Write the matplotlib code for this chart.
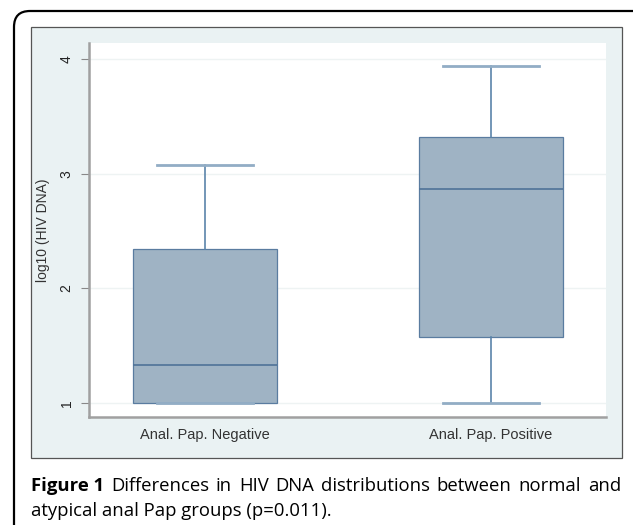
import matplotlib
matplotlib.use('Agg')
import matplotlib.pyplot as plt
from matplotlib.patches import Rectangle, FancyBboxPatch
from matplotlib.transforms import IdentityTransform

# box summaries (log10 HIV DNA)
groups = ['Anal. Pap. Negative', 'Anal. Pap. Positive']
whislo = [1.00, 1.00]
q1 = [1.00, 1.58]
med = [1.33, 2.87]
q3 = [2.34, 3.32]
whishi = [3.08, 3.94]
yticks = [1, 2, 3, 4]

caption_bold = 'Figure 1'
caption_line1 = 'Differences in HIV DNA distributions between normal and'
caption_line2 = 'atypical anal Pap groups (p=0.011).'

W, H = 633, 525
fig = plt.figure(figsize=(W / 100, H / 100), dpi=100)


def fx(px):
    return px / W


def fy(py):
    return 1 - py / H


# outer rounded frame of the figure panel (pixel coordinates, origin bottom-left)
outer = FancyBboxPatch((14, -40), 660 - 14, (H - 11) + 40,
                       boxstyle='round,pad=0,rounding_size=16',
                       transform=IdentityTransform(), fill=False,
                       edgecolor='black', linewidth=1.6, zorder=-3)
fig.patches.append(outer)

# stata-style graph region
frame = Rectangle((fx(31), fy(458)), fx(622 - 31), (458 - 27) / H,
                  transform=fig.transFigure, facecolor='#eaf2f3',
                  edgecolor='#555555', linewidth=0.9, zorder=-2)
fig.patches.append(frame)

ax = fig.add_axes([fx(89), fy(417), fx(606 - 89), (417 - 43) / H])
ax.set_facecolor('white')

stats = []
for i, g in enumerate(groups):
    stats.append(dict(label=g, whislo=whislo[i], q1=q1[i], med=med[i],
                      q3=q3[i], whishi=whishi[i], fliers=[]))

ax.bxp(stats, positions=[1, 2], widths=0.503, capwidths=0.336,
       patch_artist=True, showfliers=False,
       boxprops=dict(facecolor='#9fb3c4', edgecolor='#5a7ca0', linewidth=0.9),
       medianprops=dict(color='#4f7398', linewidth=1.2),
       whiskerprops=dict(color='#5b84aa', linewidth=1.2),
       capprops=dict(color='#92adc5', linewidth=2.0))

ax.set_xlim(0.594, 2.402)
ax.set_ylim(0.878, 4.14)
ax.set_yticks(yticks)
ax.set_yticklabels([str(t) for t in yticks], rotation=90, va='center',
                   fontsize=10, color='#222222', family='Liberation Sans')
ax.set_xticks([1, 2])
ax.set_xticklabels(groups, fontsize=10.5, color='#333333',
                   family='Liberation Sans')
ax.tick_params(axis='x', length=0, pad=8)
ax.tick_params(axis='y', length=6, width=0.8, color='#888888', pad=5)
ax.grid(axis='y', color='#eef3f3', linewidth=1.0)
ax.set_axisbelow(True)
for s in ['top', 'right']:
    ax.spines[s].set_visible(False)
for s in ['left', 'bottom']:
    ax.spines[s].set_color('#a0a0a0')
    ax.spines[s].set_linewidth(1.8)
ax.set_ylabel('log10 (HIV DNA)', fontsize=10, color='#333333',
              family='Liberation Sans', labelpad=7)

# caption, first line justified between the frame edges
fs = 13.3
renderer = fig.canvas.get_renderer()
words = [(caption_bold, 'bold')] + [(w, 'normal') for w in caption_line1.split()]
objs = []
for w, wt in words:
    t = fig.text(0, fy(486), w, fontsize=fs, family='Open Sans', weight=wt,
                 va='center', ha='left', color='black')
    objs.append(t)
widths = [t.get_window_extent(renderer).width for t in objs]
left, right = 31, 621
gap = (right - left - sum(widths)) / (len(objs) - 1)
x = left
for t, wdt in zip(objs, widths):
    t.set_x(fx(x))
    x += wdt + gap
fig.text(fx(left), fy(511), caption_line2, fontsize=fs, family='Open Sans',
         va='center', ha='left', color='black')

fig.savefig('out.png', dpi=100)
